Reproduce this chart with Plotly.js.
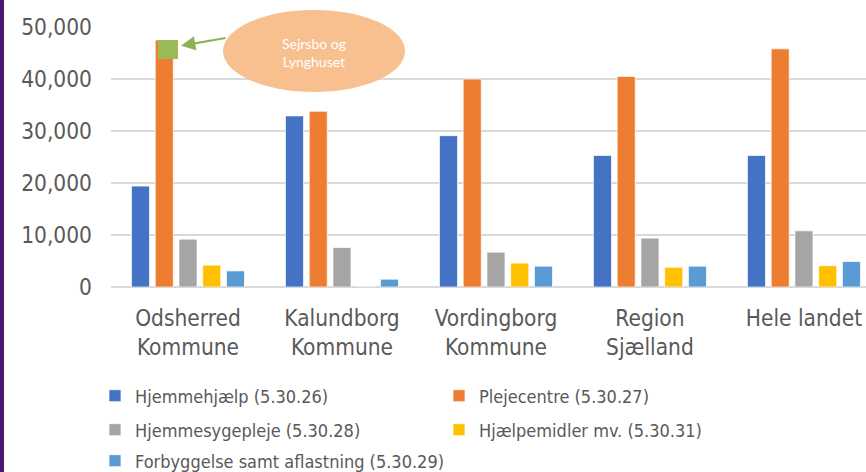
<!DOCTYPE html>
<html><head><meta charset="utf-8">
<script src="https://cdn.plot.ly/plotly-3.0.1.min.js"></script>
<style>html,body{margin:0;padding:0;background:#fff;overflow:hidden}#chart{width:866px;height:472px}</style>
</head><body><div id="chart"></div>
<script>
// ---- data ----
const categories = ['Odsherred<br>Kommune', 'Kalundborg<br>Kommune', 'Vordingborg<br>Kommune', 'Region<br>Sjælland', 'Hele landet'];
const seriesNames = ['Hjemmehjælp (5.30.26)', 'Plejecentre (5.30.27)', 'Hjemmesygepleje (5.30.28)', 'Hjælpemidler mv. (5.30.31)', 'Forbyggelse samt aflastning (5.30.29)'];
const hjemmehjaelp = [19400, 32900, 29100, 25300, 25300];
const plejecentre = [47500, 33800, 40000, 40500, 45800];
const hjemmesygepleje = [9200, 7600, 6700, 9400, 10800];
const hjaelpemidler = [4200, 0, 4600, 3800, 4100];
const forbyggelse = [3100, 1500, 4000, 4000, 4900];
const yTicks = [0, 10000, 20000, 30000, 40000, 50000];
const calloutText = 'Sejrsbo og<br>Lynghuset';

// ---- styling ----
const colors = ['#4472C4', '#ED7D31', '#A5A5A5', '#FFC000', '#5B9BD5'];
const legendIds = ['legend', 'legend', 'legend2', 'legend2', 'legend3'];
const values = [hjemmehjaelp, plejecentre, hjemmesygepleje, hjaelpemidler, forbyggelse];
const FONT = '"DejaVu Sans Condensed", "DejaVu Sans", sans-serif';

const traces = values.map((v, i) => ({
  type: 'bar', x: categories, y: v, name: seriesNames[i],
  marker: {color: colors[i], line: {color: 'rgba(255,255,255,0.7)', width: 1}},
  legend: legendIds[i], hoverinfo: 'skip'
}));

// pixel -> paper helpers for decorative overlays
const L = 111, T = 27, W = 866 - 111, H = 287 - 27;
const px = x => (x - L) / W;
const py = y => (287 - y) / H;

const legendBase = {
  orientation: 'h', xanchor: 'left', yanchor: 'middle', x: px(95),
  entrywidth: 299, font: {family: FONT, size: 18, color: '#595959'},
  bgcolor: 'rgba(0,0,0,0)', borderwidth: 0, itemclick: false
};

const layout = {
  width: 866, height: 472,
  margin: {l: L, r: 0, t: T, b: 472 - 287, pad: 0, autoexpand: false},
  paper_bgcolor: '#fff', plot_bgcolor: '#fff',
  barmode: 'group', bargap: 0.229, bargroupgap: 0.24,
  font: {family: FONT, color: '#595959'},
  xaxis: {
    type: 'category', range: [-0.5, 4.403], showgrid: false, showline: false, ticks: '',
    tickfont: {family: FONT, size: 22.5, color: '#595959'}, ticklabelstandoff: 15, fixedrange: true,
    automargin: false
  },
  yaxis: {
    range: [0, 50000], tickvals: yTicks, tickformat: ',d',
    showgrid: true, gridcolor: '#D9D9D9', gridwidth: 2,
    zeroline: true, zerolinecolor: '#D9D9D9', zerolinewidth: 2, showline: false, ticks: '',
    tickfont: {family: FONT, size: 22.5, color: '#595959'}, ticklabelstandoff: 18, fixedrange: true,
    automargin: false
  },
  showlegend: true,
  legend: Object.assign({}, legendBase, {y: py(396)}),
  legend2: Object.assign({}, legendBase, {y: py(430)}),
  legend3: Object.assign({}, legendBase, {y: py(461), entrywidth: 0}),
  shapes: [
    {type: 'rect', xref: 'paper', yref: 'paper', x0: px(0), x1: px(4), y0: py(0), y1: py(472),
     fillcolor: '#4B1673', line: {width: 0}, layer: 'above'},
    {type: 'circle', xref: 'paper', yref: 'paper', x0: px(223), x1: px(405), y0: py(92), y1: py(10),
     fillcolor: '#F8BF8F', line: {width: 0}, layer: 'above'},
    {type: 'rect', xref: 'paper', yref: 'paper', x0: px(158), x1: px(178), y0: py(59), y1: py(40),
     fillcolor: '#9BBB59', line: {width: 0}, layer: 'above'}
  ],
  annotations: [
    {xref: 'paper', yref: 'paper', x: px(314), y: py(53), xanchor: 'center', yanchor: 'middle',
     text: calloutText, showarrow: false,
     font: {family: 'Lato, "Open Sans", sans-serif', size: 14, color: '#FFFFFF'}, align: 'center'},
    {xref: 'paper', yref: 'paper', x: px(181), y: py(45.7), ax: 46, ay: -8, text: '',
     showarrow: true, arrowhead: 2, arrowsize: 1.3, arrowwidth: 2.2, arrowcolor: '#8DB255', standoff: 0, startstandoff: 0}
  ]
};

Plotly.newPlot('chart', traces, layout, {displayModeBar: false, staticPlot: true});
</script></body></html>
